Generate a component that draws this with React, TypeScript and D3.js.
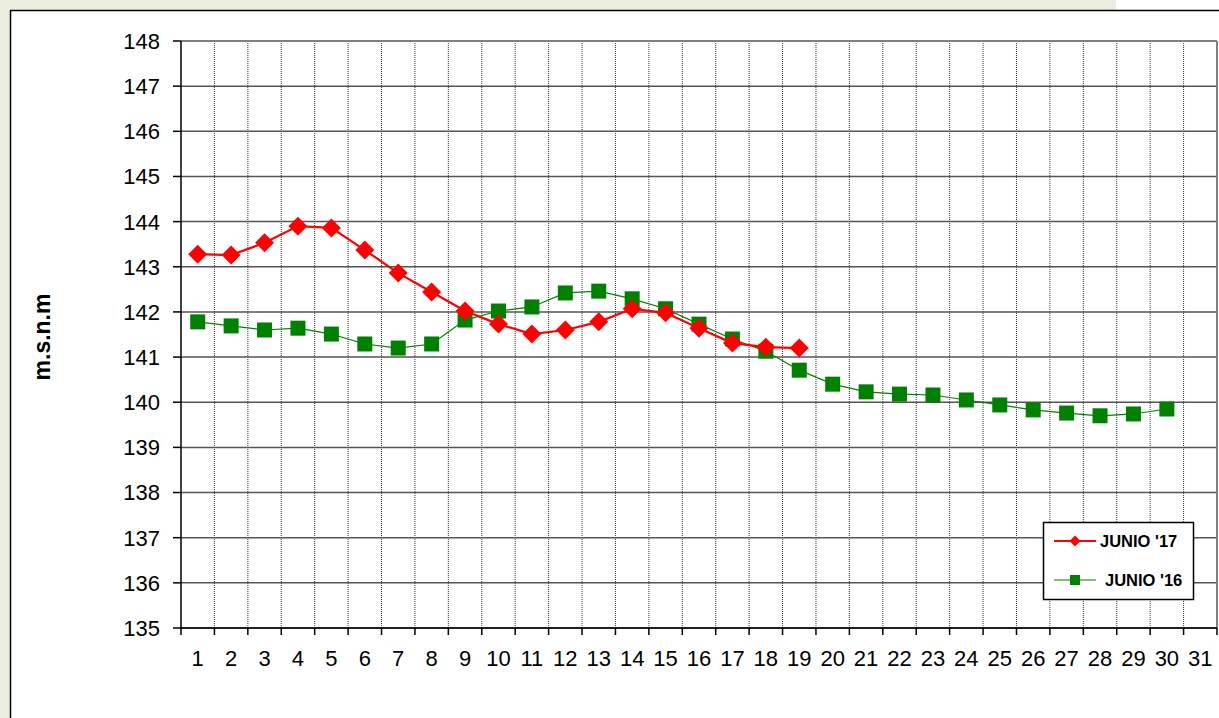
import React from 'react';
import * as d3 from 'd3';

const days = d3.range(1, 32);
const yTicks = d3.range(135, 149);

const junio17 = [143.28, 143.26, 143.53, 143.9, 143.86, 143.37, 142.86, 142.44, 142.02, 141.73,
  141.51, 141.6, 141.78, 142.07, 141.98, 141.64, 141.31, 141.22, 141.2];
const junio16 = [141.78, 141.69, 141.6, 141.64, 141.51, 141.29, 141.2, 141.29, 141.82, 142.02,
  142.11, 142.42, 142.46, 142.29, 142.07, 141.73, 141.4, 141.13, 140.71, 140.4,
  140.23, 140.18, 140.16, 140.05, 139.94, 139.83, 139.76, 139.7, 139.74, 139.85];

const W = 1219;
const H = 718;
const margin = { top: 41, left: 181, right: 2, bottom: 90 };

export default function App() {
  const innerW = W - margin.left - margin.right;
  const innerH = H - margin.top - margin.bottom;

  const x = d3.scaleBand<number>().domain(days).range([margin.left, margin.left + innerW]);
  const y = d3.scaleLinear().domain([135, 148]).range([margin.top + innerH, margin.top]);
  const cx = (d: number) => (x(d) as number) + x.bandwidth() / 2;

  const line = d3.line<number>()
    .x((_, i) => cx(i + 1))
    .y(v => y(v));

  const font = 'Arial, "Liberation Sans", sans-serif';
  const bottom = margin.top + innerH;
  const right = margin.left + innerW;

  const diamond = (px: number, py: number, r: number) =>
    `M${px},${py - r}L${px + r},${py}L${px},${py + r}L${px - r},${py}Z`;

  return (
    <svg width={W} height={H} style={{ position: 'absolute', left: 0, top: 0, display: 'block' }}>
      <rect x={0} y={0} width={W} height={H} fill="#ffffff" />
      <rect x={0} y={0} width={1116} height={10} fill="#ecefdf" />
      <rect x={0} y={0} width={10} height={H} fill="#ecefdf" />
      <line x1={10} x2={W} y1={10.5} y2={10.5} stroke="#000" strokeWidth={1.5} />
      <line x1={10.5} x2={10.5} y1={10} y2={H} stroke="#000" strokeWidth={1.5} />

      {/* vertical grid */}
      {days.slice(1).map(d => (
        <line key={'v' + d} x1={(x(d) as number)} x2={(x(d) as number)} y1={margin.top} y2={bottom}
          stroke="#333" strokeWidth={1} strokeDasharray="1,1" />
      ))}
      {/* horizontal grid */}
      {yTicks.map(t => (
        <line key={'h' + t} x1={margin.left} x2={right} y1={y(t)} y2={y(t)} stroke="#555" strokeWidth={1.5} />
      ))}
      <line x1={margin.left} x2={right} y1={margin.top} y2={margin.top} stroke="#808080" strokeWidth={2} />
      <line x1={right} x2={right} y1={margin.top} y2={bottom} stroke="#808080" strokeWidth={2} />

      {/* y axis */}
      <line x1={margin.left} x2={margin.left} y1={margin.top} y2={bottom + 1} stroke="#000" strokeWidth={1.5} />
      {yTicks.map(t => (
        <g key={'yt' + t}>
          <line x1={margin.left - 8} x2={margin.left} y1={y(t)} y2={y(t)} stroke="#000" strokeWidth={1.5} />
          <text x={160} y={y(t)} dy="0.36em" textAnchor="end" fontFamily={font} fontSize={22} fill="#000">{t}</text>
        </g>
      ))}

      {/* x axis */}
      <line x1={margin.left} x2={right} y1={bottom} y2={bottom} stroke="#000" strokeWidth={1.5} />
      {days.concat([32]).map(d => {
        const px = d === 32 ? right : (x(d) as number);
        return <line key={'xt' + d} x1={px} x2={px} y1={bottom} y2={bottom + 7} stroke="#000" strokeWidth={1.5} />;
      })}
      {days.map(d => (
        <text key={'xl' + d} x={cx(d)} y={666} textAnchor="middle" fontFamily={font} fontSize={22} fill="#000">{d}</text>
      ))}

      <text transform={`translate(50,${337}) rotate(-90)`} textAnchor="middle"
        fontFamily={font} fontSize={23} fontWeight="bold" fill="#000">m.s.n.m</text>

      {/* series */}
      <path d={line(junio16) || ''} fill="none" stroke="#008000" strokeWidth={1.2} />
      {junio16.map((v, i) => (
        <rect key={'g' + i} x={cx(i + 1) - 7.5} y={y(v) - 7.5} width={15} height={15} fill="#008000" />
      ))}
      <path d={line(junio17) || ''} fill="none" stroke="#ff0000" strokeWidth={2.2} />
      {junio17.map((v, i) => (
        <path key={'r' + i} d={diamond(cx(i + 1), y(v), 9.5)} fill="#ff0000" />
      ))}

      {/* legend */}
      <rect x={1043.5} y={522.5} width={150} height={77} fill="#fff" stroke="#000" strokeWidth={1.5} />
      <line x1={1054} x2={1096} y1={541} y2={541} stroke="#ff0000" strokeWidth={2.2} />
      <path d={diamond(1075, 541, 5.5)} fill="#ff0000" />
      <text x={1100} y={541} dy="0.36em" fontFamily={font} fontSize={16.5} fontWeight="bold" fill="#000">JUNIO '17</text>
      <line x1={1054} x2={1096} y1={580} y2={580} stroke="#008000" strokeWidth={1.2} />
      <rect x={1070} y={575} width={10} height={10} fill="#008000" />
      <text x={1105} y={580} dy="0.36em" fontFamily={font} fontSize={16.5} fontWeight="bold" fill="#000">JUNIO '16</text>
    </svg>
  );
}
